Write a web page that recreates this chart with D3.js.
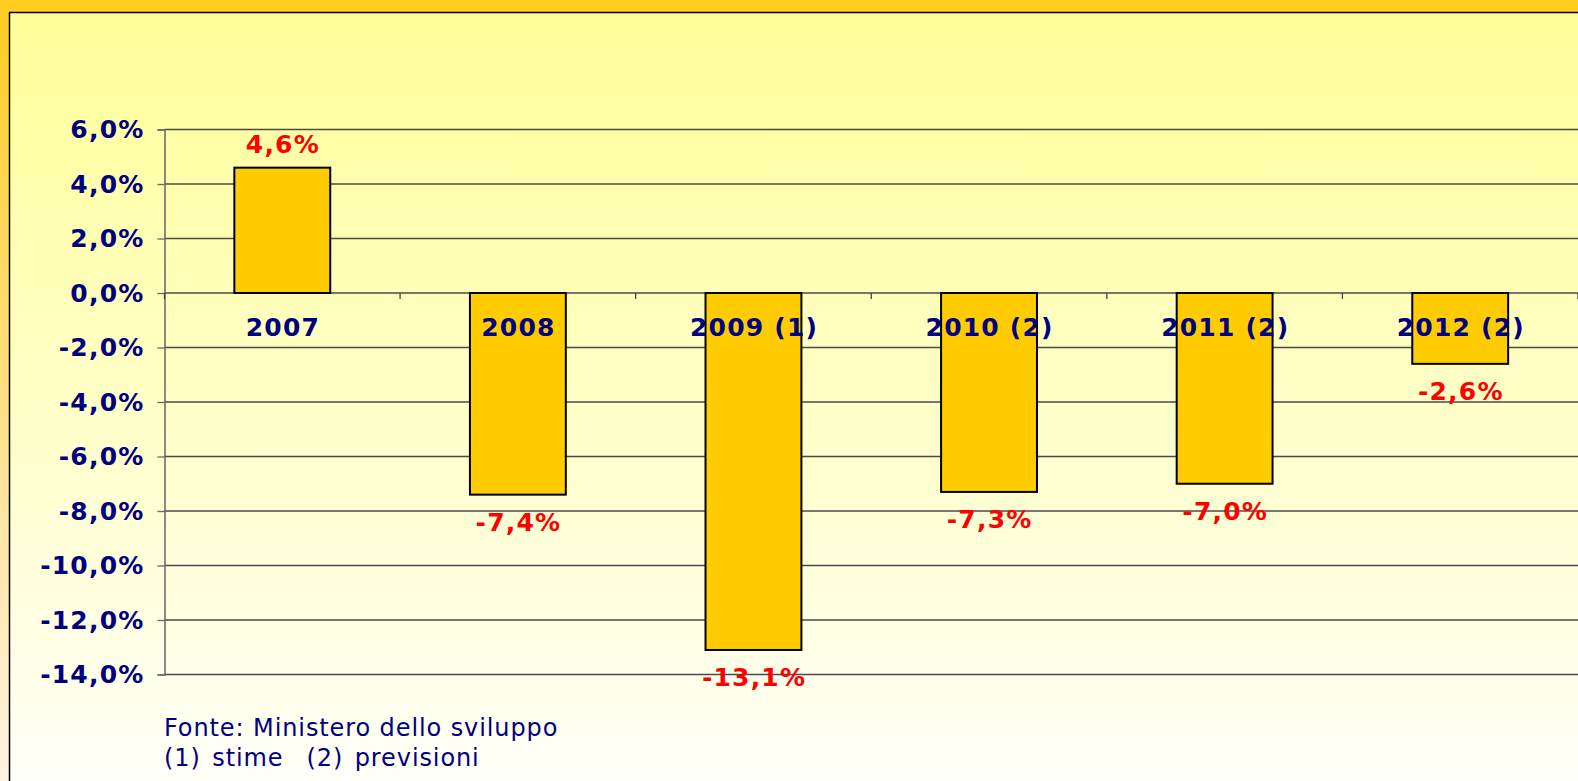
<!DOCTYPE html>
<html><head><meta charset="utf-8">
<script src="https://cdn.jsdelivr.net/npm/d3@7"></script>
<style>html,body{margin:0;padding:0;overflow:hidden;background:#fff}</style>
</head><body>
<svg id="c" width="1578" height="781"></svg>
<script>
const categories = ["2007","2008","2009 (1)","2010 (2)","2011 (2)","2012 (2)"];
const values = [4.6,-7.4,-13.1,-7.3,-7.0,-2.6];
const tickValues = [6,4,2,0,-2,-4,-6,-8,-10,-12,-14];
const footer = ["Fonte: Ministero dello sviluppo","(1) stime  (2) previsioni"];

(function(){
const W=1578,H=781;
const svg=d3.select("#c");
const defs=svg.append("defs");
const g1=defs.append("linearGradient").attr("id","panel").attr("x1",0).attr("y1",0).attr("x2",0).attr("y2",1);
g1.append("stop").attr("offset","0%").attr("stop-color","#FFFF99");
g1.append("stop").attr("offset","55%").attr("stop-color","#FFFFCC");
g1.append("stop").attr("offset","100%").attr("stop-color","#FFFFFA");
const g2=defs.append("linearGradient").attr("id","frame").attr("x1",0).attr("y1",0).attr("x2",0).attr("y2",1);
g2.append("stop").attr("offset","0%").attr("stop-color","#FFCC22");
g2.append("stop").attr("offset","100%").attr("stop-color","#FFF3E4");

svg.append("rect").attr("width",W).attr("height",H).attr("fill","url(#frame)");
svg.append("rect").attr("x",0).attr("y",0).attr("width",W).attr("height",12).attr("fill","#FFCC22");
svg.append("rect").attr("x",9).attr("y",12).attr("width",W).attr("height",H).attr("fill","url(#panel)");
svg.append("line").attr("x1",9).attr("x2",W).attr("y1",12.5).attr("y2",12.5).attr("stroke","#000").attr("stroke-width",1.5);
svg.append("line").attr("x1",9.5).attr("x2",9.5).attr("y1",12).attr("y2",H).attr("stroke","#000").attr("stroke-width",1.5);

const pl=164.5,pr=1578,pt=129.5,pb=674.5;
const x=d3.scaleBand().domain(categories).range([pl,pr]).paddingInner(0.593).paddingOuter(0.2965);
const xb=d3.scaleBand().domain(categories).range([pl,pr]);
const y=d3.scaleLinear().domain([-14,6]).range([pb,pt]);
const fmt=d=>d3.format(".1f")(d).replace(".",",").replace("\u2212","-")+"%";

const navy="#000080";
const bold=sel=>sel.attr("font-family","DejaVu Sans").attr("font-weight","bold").attr("font-size",25).attr("letter-spacing",1.2);

svg.append("g").selectAll("line").data(tickValues).join("line")
  .attr("x1",pl).attr("x2",pr).attr("y1",d=>y(d)).attr("y2",d=>y(d))
  .attr("stroke","#4a4a4a").attr("stroke-width",1.3);

const ya=svg.append("g").attr("transform",`translate(${pl},0)`)
  .call(d3.axisLeft(y).tickValues(tickValues).tickSize(7).tickPadding(13).tickFormat(fmt));
ya.select(".domain").attr("stroke","#666").attr("stroke-width",1.5);
ya.selectAll(".tick line").attr("stroke","#666").attr("stroke-width",1.3);
ya.selectAll("text").attr("fill",navy).call(bold);

svg.append("g").selectAll("rect").data(values).join("rect")
  .attr("x",(d,i)=>x(categories[i])).attr("width",x.bandwidth())
  .attr("y",d=>y(Math.max(0,d))).attr("height",d=>Math.abs(y(d)-y(0)))
  .attr("fill","#FFCC00").attr("stroke","#000").attr("stroke-width",2);

svg.append("g").selectAll("line").data(categories.map((c,i)=>i).concat([categories.length])).join("line")
  .attr("x1",i=>pl+i*xb.step()).attr("x2",i=>pl+i*xb.step())
  .attr("y1",y(0)).attr("y2",y(0)+6).attr("stroke","#444").attr("stroke-width",1.3);

svg.append("g").selectAll("text").data(categories).join("text")
  .attr("x",d=>xb(d)+xb.bandwidth()/2+0.6).attr("y",y(0)+43)
  .attr("text-anchor","middle").attr("fill",navy).call(bold)
  .text(d=>d);

svg.append("g").selectAll("text").data(values).join("text")
  .attr("x",(d,i)=>xb(categories[i])+xb.bandwidth()/2+0.6)
  .attr("y",d=>d>=0? y(d)-14.5 : y(d)+36.5)
  .attr("text-anchor","middle").attr("fill","#FF0000").call(bold)
  .text(fmt);

svg.append("g").selectAll("text").data(footer).join("text")
  .attr("x",164).attr("y",(d,i)=>736+i*30)
  .attr("fill",navy).attr("font-family","DejaVu Sans").attr("font-size",24).attr("letter-spacing",0.9)
  .attr("word-spacing",(d,i)=>i===1?3:0)
  .style("white-space","pre")
  .text(d=>d);
})();
</script>
</body></html>
